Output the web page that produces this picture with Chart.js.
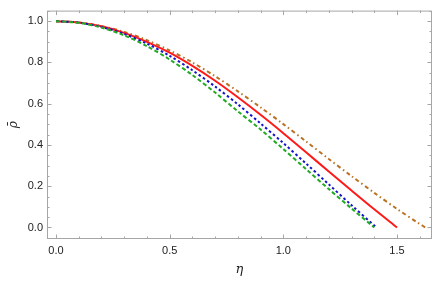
<!DOCTYPE html>
<html>
<head>
<meta charset="utf-8">
<script src="https://cdn.jsdelivr.net/npm/chart.js@4.4.0/dist/chart.umd.min.js"></script>
<style>
  body { margin: 0; background: #fff; }
  #wrap { width: 436px; height: 282px; }
</style>
</head>
<body>
<div id="wrap"><canvas id="plot" width="436" height="282"></canvas></div>
<script>
// values
var etaRed   = [0, 0.1, 0.2, 0.3, 0.4, 0.5, 0.6, 0.7, 0.8, 0.9, 1.0, 1.1, 1.2, 1.3, 1.4, 1.5];
var rhoRed   = [1, 0.994, 0.975, 0.943, 0.900, 0.847, 0.783, 0.711, 0.631, 0.546, 0.457, 0.365, 0.271, 0.179, 0.088, 0];
var etaBrown = [0, 0.1, 0.2, 0.3, 0.4, 0.5, 0.6, 0.7, 0.8, 0.9, 1.0, 1.1, 1.2, 1.3, 1.4, 1.5, 1.6, 1.625];
var rhoBrown = [1, 0.994, 0.976, 0.948, 0.908, 0.858, 0.800, 0.733, 0.660, 0.582, 0.501, 0.417, 0.332, 0.249, 0.168, 0.090, 0.017, 0];
var etaBlue  = [0, 0.1, 0.2, 0.3, 0.4, 0.5, 0.6, 0.7, 0.8, 0.9, 1.0, 1.1, 1.2, 1.3, 1.41];
var rhoBlue  = [1, 0.993, 0.972, 0.938, 0.891, 0.832, 0.762, 0.683, 0.597, 0.504, 0.409, 0.310, 0.209, 0.108, 0];
var etaGreen = [0, 0.1, 0.2, 0.3, 0.4, 0.5, 0.6, 0.7, 0.8, 0.9, 1.0, 1.1, 1.2, 1.3, 1.4];
var rhoGreen = [1, 0.992, 0.969, 0.931, 0.879, 0.814, 0.739, 0.654, 0.563, 0.475, 0.380, 0.283, 0.186, 0.092, 0];

var xTicks = [0, 0.5, 1.0, 1.5];
var yTicks = [0, 0.2, 0.4, 0.6, 0.8, 1.0];

function pts(xs, ys) {
  var out = [];
  for (var i = 0; i < xs.length; i++) out.push({x: xs[i], y: ys[i]});
  return out;
}

// mathematica style frame with inward ticks on every side
var framePlugin = {
  id: 'frame',
  afterDraw: function(chart) {
    var ctx = chart.ctx, a = chart.chartArea;
    var sx = chart.scales.x, sy = chart.scales.y;
    ctx.save();
    ctx.strokeStyle = '#a6a6a6';
    ctx.lineWidth = 1;
    ctx.strokeRect(a.left + 0.5, a.top + 0.5, a.right - a.left - 1, a.bottom - a.top - 1);
    ctx.beginPath();
    for (var i = 0; i <= 16; i++) {
      var px = Math.round(sx.getPixelForValue(i / 10)) + 0.5;
      var len = (i % 5 === 0) ? 4.5 : 2.5;
      ctx.moveTo(px, a.bottom); ctx.lineTo(px, a.bottom - len);
      ctx.moveTo(px, a.top); ctx.lineTo(px, a.top + len);
    }
    for (var j = 0; j <= 21; j++) {
      var py = Math.round(sy.getPixelForValue(j * 0.05)) + 0.5;
      var l2 = (j % 4 === 0) ? 4.5 : 2.5;
      ctx.moveTo(a.left, py); ctx.lineTo(a.left + l2, py);
      ctx.moveTo(a.right, py); ctx.lineTo(a.right - l2, py);
    }
    ctx.stroke();
    ctx.restore();
  }
};

var ctx = document.getElementById('plot');
var chart = new Chart(ctx, {
  type: 'scatter',
  data: {
    datasets: [
      {
        label: 'green',
        data: pts(etaGreen, rhoGreen),
        showLine: true,
        borderColor: '#22aa22',
        borderWidth: 2,
        borderDash: [4, 2.5],
        pointRadius: 0,
        tension: 0.3
      },
      {
        label: 'blue',
        data: pts(etaBlue, rhoBlue),
        showLine: true,
        borderColor: '#1414c8',
        borderWidth: 2,
        borderDash: [2.5, 2.5],
        pointRadius: 0,
        tension: 0.3
      },
      {
        label: 'red',
        data: pts(etaRed, rhoRed),
        showLine: true,
        borderColor: '#ff1a1a',
        borderWidth: 2,
        pointRadius: 0,
        tension: 0.3
      },
      {
        label: 'brown',
        data: pts(etaBrown, rhoBrown),
        showLine: true,
        borderColor: '#bb7022',
        borderWidth: 2,
        borderDash: [4, 3, 1.5, 3],
        pointRadius: 0,
        tension: 0.3
      }
    ]
  },
  options: {
    responsive: false,
    animation: false,
    layout: { padding: { top: 1, right: 4, left: 0, bottom: 0 } },
    plugins: { legend: { display: false }, tooltip: { enabled: false } },
    scales: {
      x: {
        type: 'linear',
        min: -0.0396,
        max: 1.654,
        grid: { display: false, drawTicks: false },
        border: { display: false },
        afterBuildTicks: function(s) { s.ticks = xTicks.map(function(v){ return {value: v}; }); },
        afterFit: function(s) { s.height = 43; },
        ticks: {
          padding: 5,
          color: '#222',
          font: { family: 'Liberation Sans', size: 11 },
          callback: function(v) { return Number(v).toFixed(1); }
        },
        title: {
          display: true,
          text: 'η',
          color: '#222',
          font: { family: 'DejaVu Serif', size: 13, style: 'italic' },
          padding: { top: 0, bottom: 5 }
        }
      },
      y: {
        type: 'linear',
        min: -0.0558,
        max: 1.0512,
        grid: { display: false, drawTicks: false },
        border: { display: false },
        afterBuildTicks: function(s) { s.ticks = yTicks.map(function(v){ return {value: v}; }); },
        afterFit: function(s) { s.width = 47; },
        ticks: {
          padding: 4,
          color: '#222',
          font: { family: 'Liberation Sans', size: 11 },
          callback: function(v) { return Number(v).toFixed(1); }
        },
        title: {
          display: true,
          text: 'ρ̄',
          color: '#222',
          font: { family: 'DejaVu Serif', size: 12, style: 'italic' },
          padding: { top: 7, bottom: 0 }
        }
      }
    }
  },
  plugins: [framePlugin]
});
</script>
</body>
</html>
